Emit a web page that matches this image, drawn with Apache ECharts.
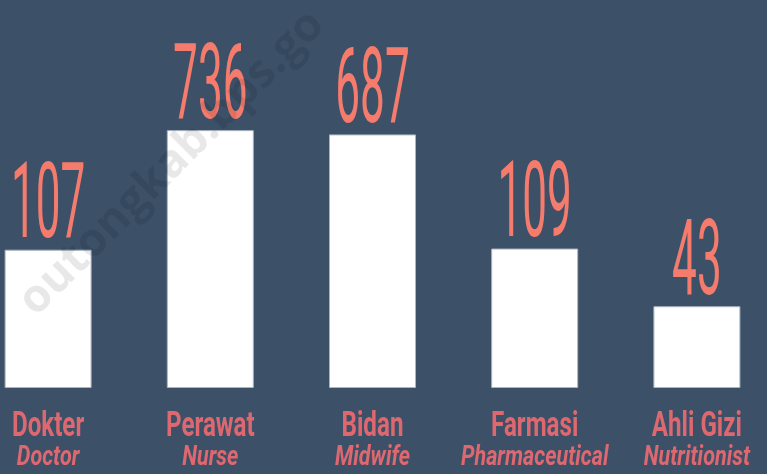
<!DOCTYPE html>
<html>
<head>
<meta charset="utf-8">
<style>
  html, body { margin: 0; padding: 0; background: #3c5068; }
  #chart { width: 767px; height: 474px; }
</style>
</head>
<body>
<div id="chart"></div>
<script src="https://cdn.jsdelivr.net/npm/echarts@6/dist/echarts.min.js"></script>
<script>
var categories = ["Dokter", "Perawat", "Bidan", "Farmasi", "Ahli Gizi"];
var categoriesEn = ["Doctor", "Nurse", "Midwife", "Pharmaceutical", "Nutritionist"];
var values = [107, 736, 687, 109, 43];

// the infographic bars are not linear, a log axis gets close
var yMin = 11.5;
var yMax = 3000;

var numColor = "#f57b6c";
var catColor = "#de6870";

var myChart = echarts.init(document.getElementById("chart"));

var option = {
  backgroundColor: "#3c5068",
  animation: false,
  grid: { left: -33, right: -11, top: 43, bottom: 86, outerBoundsMode: "none" },
  xAxis: {
    type: "category",
    data: categories,
    show: false
  },
  yAxis: {
    type: "log",
    min: yMin,
    max: yMax,
    startValue: yMin,
    show: false
  },
  series: [
    {
      type: "bar",
      data: values,
      barWidth: 87,
      clip: true,
      itemStyle: {
        color: "#ffffff",
        borderColor: "#aab5c0",
        borderWidth: 1
      }
    },
    {
      type: "custom",
      clip: false,
      data: values.map(function (v, i) { return [i, v]; }),
      renderItem: function (params, api) {
        var i = api.value(0);
        var top = api.coord([i, api.value(1)]);
        var base = api.coord([i, yMin]);
        return {
          type: "group",
          children: [
            {
              type: "text",
              x: top[0],
              y: top[1] + 14,
              scaleX: 0.42,
              style: {
                text: String(api.value(1)),
                fontFamily: "Roboto",
                fontWeight: 400,
                fontSize: 105,
                fill: numColor,
                align: "center",
                verticalAlign: "bottom"
              }
            },
            {
              type: "text",
              x: base[0],
              y: base[1] + 39,
              scaleX: 0.69,
              style: {
                text: categories[params.dataIndex],
                fontFamily: "Roboto",
                fontWeight: "bold",
                fontSize: 35,
                fill: catColor,
                align: "center",
                verticalAlign: "middle"
              }
            },
            {
              type: "text",
              x: base[0],
              y: base[1] + 70,
              scaleX: 0.77,
              style: {
                text: categoriesEn[params.dataIndex],
                fontFamily: "Roboto",
                fontWeight: "bold",
                fontStyle: "italic",
                fontSize: 28,
                fill: catColor,
                align: "center",
                verticalAlign: "middle"
              }
            }
          ]
        };
      }
    }
  ],
  graphic: [
    {
      type: "text",
      x: 172,
      y: 163,
      rotation: Math.PI / 4,
      z: 100,
      silent: true,
      style: {
        text: "outongkab.bps.go",
        fontFamily: "Open Sans",
        fontWeight: "bold",
        fontSize: 46,
        fill: "rgba(0, 0, 0, 0.09)",
        align: "center",
        verticalAlign: "middle"
      }
    }
  ]
};

myChart.setOption(option);
</script>
</body>
</html>
